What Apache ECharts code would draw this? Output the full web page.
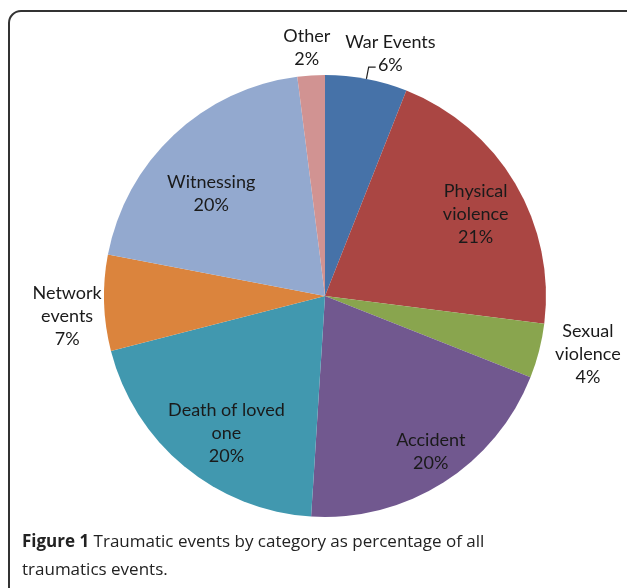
<!DOCTYPE html>
<html>
<head>
<meta charset="utf-8">
<script src="https://cdn.jsdelivr.net/npm/echarts@6/dist/echarts.min.js"></script>
<style>
html,body{margin:0;padding:0;background:#fff;}
#chart{width:627px;height:588px;}
</style>
</head>
<body>
<div id="chart"></div>
<script>
var categories = ['War Events', 'Physical violence', 'Sexual violence', 'Accident', 'Death of loved one', 'Network events', 'Witnessing', 'Other'];
var labelTexts = ['War Events', 'Physical\nviolence', 'Sexual\nviolence', 'Accident', 'Death of loved\none', 'Network\nevents', 'Witnessing', 'Other'];
var values = [6, 21, 4, 20, 20, 7, 20, 2];
var colors = ['#4672A8', '#AA4643', '#89A54E', '#71588F', '#4198AF', '#DB843D', '#93A9CF', '#D19392'];
var insideLabels = [false, true, false, true, true, false, true, false];
// small nudges of label boxes to match the reference placement
var labelShiftX = [17, 0, 13, 12, 13, 0, 6, -2];
var labelShiftY = [11, 7, -6, 8, 2, 12, 25, 9];

var chart = echarts.init(document.getElementById('chart'));
var CX = 325, CY = 296, R = 221;
var labelFont = {fontFamily: 'Lato', fontSize: 18, color: '#1a1a1a', lineHeight: 23};

function txt(i){ return labelTexts[i] + '\n' + values[i] + '%'; }
function nudge(p){ return {dx: labelShiftX[p.dataIndex], dy: labelShiftY[p.dataIndex]}; }

var mainData = categories.map(function(c, i){
  var d = {name: c, value: values[i], itemStyle: {color: colors[i]}};
  if (i === 0) {
    d.label = {show: true, position: 'outside', formatter: ' ', fontSize: 1};
    d.labelLine = {show: true, length: 12, length2: 7, lineStyle: {color: '#222', width: 1.2}};
  }
  return d;
});
var innerData = categories.map(function(c, i){
  return {name: c, value: values[i], label: Object.assign({show: insideLabels[i], position: 'inside', formatter: txt(i)}, labelFont)};
});
var outerData = categories.map(function(c, i){
  return {name: c, value: values[i], label: Object.assign({show: !insideLabels[i], position: 'inside', formatter: txt(i)}, labelFont)};
});

chart.setOption({
  animation: false,
  graphic: [{
    type: 'rect', shape: {x: 9, y: 11, width: 800, height: 800, r: 12},
    style: {fill: 'none', stroke: '#333', lineWidth: 2}, silent: true
  }],
  title: {
    left: 17, top: 523,
    text: '{b|Figure 1} Traumatic events by category as percentage of all\ntraumatics events.',
    textStyle: {
      fontFamily: 'Open Sans', fontSize: 17, color: '#222', lineHeight: 28, fontWeight: 'normal',
      rich: {b: {fontFamily: 'Open Sans', fontSize: 17, fontWeight: 'bold', color: '#222', lineHeight: 28}}
    }
  },
  series: [
    {
      type: 'pie', center: [CX, CY], radius: [0, R], startAngle: 90, clockwise: true,
      silent: true, label: {show: false}, labelLine: {show: false},
      itemStyle: {borderWidth: 0}, data: mainData
    },
    {
      type: 'pie', center: [CX, CY], radius: [0, 2 * 172], startAngle: 90, clockwise: true,
      silent: true, itemStyle: {color: 'rgba(0,0,0,0)', borderWidth: 0}, labelLine: {show: false},
      labelLayout: nudge, data: innerData
    },
    {
      type: 'pie', center: [CX, CY], radius: [R, 2 * 255 - R], startAngle: 90, clockwise: true,
      silent: true, itemStyle: {color: 'rgba(0,0,0,0)', borderWidth: 0}, labelLine: {show: false},
      labelLayout: nudge, data: outerData
    }
  ]
});
</script>
</body>
</html>
